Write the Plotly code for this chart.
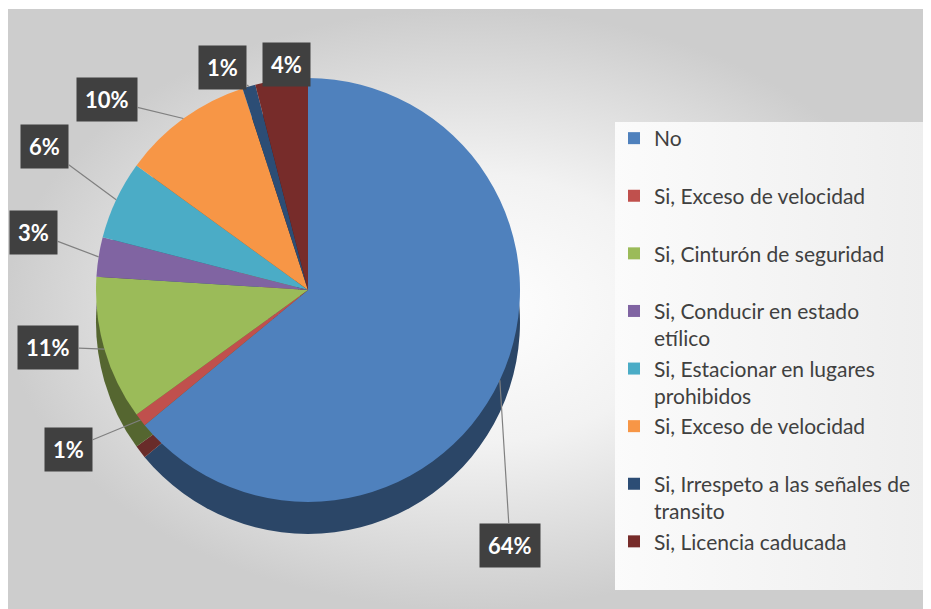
import math
import plotly.graph_objects as go

# ---------------- data ----------------
categories = [
    "No",
    "Si, Exceso de velocidad",
    "Si, Cinturón de seguridad",
    "Si, Conducir en estado<br>etílico",
    "Si, Estacionar en lugares<br>prohibidos",
    "Si, Exceso de velocidad",
    "Si, Irrespeto a las señales de<br>transito",
    "Si, Licencia caducada",
]
percentages = [64, 1, 11, 3, 6, 10, 1, 4]

# ---------------- style ----------------
OFF = 8                          # page body margin
W, H = 931 - OFF, 609 - OFF      # figure size
colors = ["#4F81BD", "#C0504D", "#9BBB59", "#8064A2", "#4BACC6", "#F79646", "#2C4D75", "#772C2A"]
FONT = "Lato"
# pie centre / radius in page pixels
cx, cy, R = 308 - OFF, 290 - OFF, 212
depth = 32
label_fac = [1.535, 1.36, 1.255, 1.325, 1.415, 1.305, 1.125, 1.07]
label_shift = [26.4, 4.1, 3.8, 2.9, 3.3, -10.6, -4.7, 1.7]


def darker(hex_color, f=0.55):
    h = hex_color.lstrip("#")
    r, g, b = (int(h[i:i + 2], 16) for i in (0, 2, 4))
    return "#%02x%02x%02x" % (int(r * f), int(g * f), int(b * f))


def domain(cx_, cy_, r_):
    return dict(x=[(cx_ - r_) / W, (cx_ + r_) / W],
                y=[1 - (cy_ + r_) / H, 1 - (cy_ - r_) / H])


# legend labels: pad every entry to two lines so slots are even; keep duplicates distinct
legend_labels = []
seen = {}
for c in categories:
    lab = c if "<br>" in c else c + "<br> "
    seen[lab] = seen.get(lab, 0) + 1
    if seen[lab] > 1:
        lab = lab + "\u200b" * (seen[lab] - 1)
    legend_labels.append(lab)

fig = go.Figure()

# chart-area background with radial gradient
fig.add_trace(go.Scatter(
    x=[6 - OFF, W, W, 6 - OFF, 6 - OFF], y=[9 - OFF, 9 - OFF, H, H, 9 - OFF], mode="lines", fill="toself",
    line=dict(width=0),
    fillgradient=dict(type="radial", colorscale=[[0, "#ffffff"], [0.45, "#f2f2f2"], [1, "#cdcdcd"]]),
    hoverinfo="skip", showlegend=False))
# legend panel
fig.add_trace(go.Scatter(
    x=[615 - OFF, 925 - OFF, 925 - OFF, 615 - OFF, 615 - OFF],
    y=[122 - OFF, 122 - OFF, 590 - OFF, 590 - OFF, 122 - OFF], mode="lines", fill="toself",
    line=dict(width=0), fillgradient=dict(type="horizontal", colorscale=[[0, "#fbfbfb"], [1, "#eeeeee"]]),
    hoverinfo="skip", showlegend=False))

# side (depth) of the pie
fig.add_trace(go.Pie(
    labels=legend_labels, values=percentages, sort=False, direction="clockwise", rotation=0,
    marker=dict(colors=[darker(c) for c in colors], line=dict(width=0)),
    textinfo="none", hoverinfo="skip", showlegend=False,
    domain=domain(cx, cy + depth, R)))
# top face
fig.add_trace(go.Pie(
    labels=legend_labels, values=percentages, sort=False, direction="clockwise", rotation=0,
    marker=dict(colors=colors, line=dict(width=0)),
    textinfo="none", showlegend=True,
    domain=domain(cx, cy, R)))

# data labels in dark boxes with leader lines
total = sum(percentages)
cum = 0
annotations = []
for i, v in enumerate(percentages):
    mid = (cum + v / 2) / total * 360
    cum += v
    hx = cx + R * math.sin(math.radians(mid))
    hy = cy - R * math.cos(math.radians(mid))
    la = mid + label_shift[i]
    d = R * label_fac[i]
    lx = cx + d * math.sin(math.radians(la))
    ly = cy - d * math.cos(math.radians(la))
    annotations.append(dict(
        x=hx / W, y=1 - hy / H, xref="paper", yref="paper",
        ax=lx - hx, ay=ly - hy, showarrow=True, arrowhead=0, arrowwidth=1.2,
        arrowcolor="#808080", standoff=0,
        text="<b>%d%%</b>" % round(v / total * 100),
        font=dict(family=FONT, size=22, color="white"),
        bgcolor="#404040", borderpad=8))

fig.update_layout(
    width=W, height=H, margin=dict(l=0, r=0, t=0, b=0),
    paper_bgcolor="white", plot_bgcolor="rgba(0,0,0,0)",
    xaxis=dict(range=[0, W], visible=False, domain=[0, 1], fixedrange=True),
    yaxis=dict(range=[H, 0], visible=False, domain=[0, 1], fixedrange=True),
    showlegend=True,
    legend=dict(x=(614 - OFF) / W, y=1 - (118 - OFF) / H, xanchor="left", yanchor="top",
                font=dict(family=FONT, size=21, color="#404040"),
                bgcolor="rgba(0,0,0,0)", valign="top", traceorder="normal"),
    annotations=annotations,
)

fig.write_html("out.html")
